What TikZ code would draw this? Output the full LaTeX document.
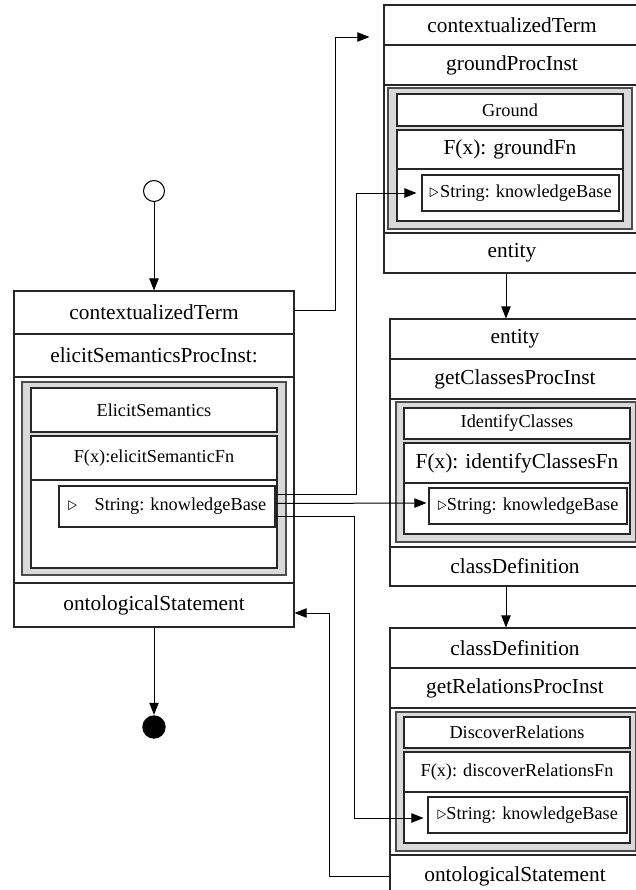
\documentclass[tikz,border=0pt]{standalone}
\usepackage{fontspec}
\setmainfont{Liberation Serif}
\usetikzlibrary{arrows.meta,calc,fit}

\begin{document}
\begin{tikzpicture}[x=0.75pt,y=-0.75pt,
  big/.style={font=\fontsize{16}{19}\selectfont},
  small/.style={font=\fontsize{13.7}{16}\selectfont},
  cell/.style={draw=black!85,line width=0.8pt,fill=white,inner sep=0pt},
  bigcell/.style={cell,label={[big,inner sep=0pt]center:#1}},
  smallcell/.style={cell,label={[small,inner sep=0pt]center:#1}},
  frame/.style={draw=black!70,line width=0.8pt,fill=black!15,inner sep=0pt},
  link/.style={draw=black,line width=0.75pt},
  arr/.style={link,-{Triangle[length=9pt,width=7pt]}},
  pin/.style={circle,inner sep=0pt,line width=0.8pt},
]
\useasboundingbox (0,0) rectangle (636,890);
\clip (0,0) rectangle (636,890);

% ---- elicitSemantics process (left) ----
\node[bigcell=contextualizedTerm,fit={(14,291)(294,334)}] (lTerm) {};
\node[bigcell=elicitSemanticsProcInst:,fit={(14,334)(294,377)}] (lProc) {};
\node[cell,fit={(14,377)(294,583)}] (lBody) {};
\node[bigcell=ontologicalStatement,fit={(14,583)(294,627)}] (lOnto) {};
\node[frame,fit={(22,382)(286,575)}] (lFrame) {};
\node[smallcell=ElicitSemantics,fit={(31,388)(277,432)}] (lHead) {};
\node[smallcell={F(x):elicitSemanticFn},fit={(31,436)(277,480)}] (lFn) {};
\node[cell,fit={(31,480)(277,568)}] (lFnBody) {};
\node[smallcell={$\triangleright$\hspace{13pt}String: knowledgeBase},fit={(59,486)(275,527)}] (lKB) {};

% ---- ground process (top right) ----
\node[bigcell=contextualizedTerm,fit={(384,5)(640,45)}] (aTerm) {};
\node[bigcell=groundProcInst,fit={(384,45)(640,85)}] (aProc) {};
\node[cell,fit={(384,85)(640,233)}] (aBody) {};
\node[bigcell=entity,fit={(384,233)(640,273)}] (aEnt) {};
\node[frame,fit={(388,88)(632,229)}] (aFrame) {};
\node[smallcell=Ground,fit={(397,94)(623,126)}] (aHead) {};
\node[bigcell={F(x): groundFn},fit={(397,130)(623,169)}] (aFn) {};
\node[cell,fit={(397,169)(623,221)}] (aFnBody) {};
\node[smallcell={$\triangleright$\hspace{1pt}String: knowledgeBase},fit={(422,175)(619,211)}] (aKB) {};

% ---- getClasses process (middle right) ----
\node[bigcell=entity,fit={(390,319)(640,359)}] (bEnt) {};
\node[bigcell=getClassesProcInst,fit={(390,359)(640,399)}] (bProc) {};
\node[cell,fit={(390,399)(640,547)}] (bBody) {};
\node[bigcell=classDefinition,fit={(390,547)(640,586)}] (bCls) {};
\node[frame,fit={(396,402)(636,542)}] (bFrame) {};
\node[smallcell=IdentifyClasses,fit={(404,408)(630,439)}] (bHead) {};
\node[bigcell={F(x): identifyClassesFn},fit={(404,443)(630,483)}] (bFn) {};
\node[cell,fit={(404,483)(630,534)}] (bFnBody) {};
\node[smallcell={$\triangleright$String: knowledgeBase},fit={(429,488)(627,524)}] (bKB) {};

% ---- getRelations process (bottom right) ----
\node[bigcell=classDefinition,fit={(390,628)(640,668)}] (cCls) {};
\node[bigcell=getRelationsProcInst,fit={(390,668)(640,708)}] (cProc) {};
\node[cell,fit={(390,708)(640,855)}] (cBody) {};
\node[bigcell=ontologicalStatement,fit={(390,855)(640,897)}] (cOnto) {};
\node[frame,fit={(396,712)(636,851)}] (cFrame) {};
\node[smallcell=DiscoverRelations,fit={(404,717)(630,748)}] (cHead) {};
\node[smallcell={F(x): discoverRelationsFn},fit={(404,752)(630,792)}] (cFn) {};
\node[cell,fit={(404,792)(630,843)}] (cFnBody) {};
\node[smallcell={$\triangleright$String: knowledgeBase},fit={(428,797)(627,833)}] (cKB) {};

% ---- initial and final states ----
\node[pin,draw,minimum size=15.75pt] (start) at (154,191) {};
\node[pin,fill=black,minimum size=17.5pt] (stop) at (154,727) {};

% ---- control flow ----
\draw[arr] (start) -- (lTerm.north);
\draw[arr] (lOnto.south) -- (stop);
\coordinate (ab) at ($(aEnt.south)+(-6,0)$);
\draw[arr] (ab) -- (ab |- bEnt.north);
\coordinate (bc) at ($(bCls.south)+(-9,0)$);
\draw[arr] (bc) -- (bc |- cCls.north);

% ---- data flow ----
\draw[arr] ($(lTerm.east)+(0,-2)$) -- ++(41,0) |- ($(aTerm.west)+(-14,12)$);
\draw[arr] ($(lKB.east)+(0,-12)$) -- ++(81,0) |- ($(aKB.west)+(-5,0)$);
\draw[arr] ($(lKB.east)+(0,-3)$) -- ($(bKB.west)+(-2,-3)$);
\draw[arr] ($(lKB.east)+(0,10)$) -- ++(79,0) |- ($(cKB.west)+(-4,3)$);
\draw[arr] (cOnto.west) -- ++(-60,0) |- ($(lOnto.east)+(0,8)$);
\end{tikzpicture}
\end{document}
